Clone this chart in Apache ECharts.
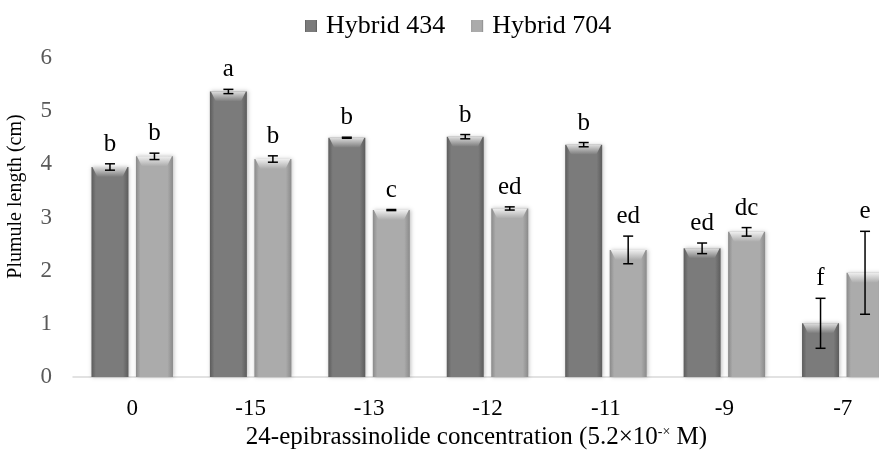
<!DOCTYPE html>
<html>
<head>
<meta charset="utf-8">
<script src="https://cdn.jsdelivr.net/npm/echarts@6/dist/echarts.min.js"></script>
<style>html,body{margin:0;padding:0;background:#fff}#c{width:879px;height:452px}</style>
</head>
<body>
<div id="c"></div>
<script>
const categories = ['0', '-15', '-13', '-12', '-11', '-9', '-7'];
const seriesNames = ['Hybrid 434', 'Hybrid 704'];
const h434 = [3.95, 5.37, 4.50, 4.52, 4.37, 2.42, 1.01];
const h704 = [4.15, 4.10, 3.14, 3.17, 2.39, 2.73, 1.96];
const err434 = [0.06, 0.04, 0.01, 0.04, 0.04, 0.10, 0.47];
const err704 = [0.06, 0.06, 0.01, 0.03, 0.26, 0.08, 0.78];
const letters434 = ['b', 'a', 'b', 'b', 'b', 'ed', 'f'];
const letters704 = ['b', 'b', 'c', 'ed', 'ed', 'dc', 'e'];
const yTicks = [0, 1, 2, 3, 4, 5, 6];

const FONT = 'Liberation Serif';
const BAR_W = 37;
const BAR_GAP = 7.5;

const chart = echarts.init(document.getElementById('c'));

function barGrad(edge, mid) {
  return new echarts.graphic.LinearGradient(0, 0, 1, 0, [
    {offset: 0, color: edge},
    {offset: 0.12, color: mid},
    {offset: 0.85, color: mid},
    {offset: 1, color: edge}
  ]);
}
const colors = [
  {edge: '#5c5c5c', mid: '#7b7b7b', cap: '#dedede'},
  {edge: '#8a8a8a', mid: '#ababab', cap: '#efefef'}
];

function overlay(seriesIdx, values, errs, letters) {
  return {
    type: 'custom',
    name: seriesNames[seriesIdx] + ' err',
    z: 5,
    silent: true,
    data: categories.map((c, i) => [i, values[i], errs[i], letters[i]]),
    renderItem: function (params, api) {
      const i = api.value(0);
      const v = api.value(1);
      const e = api.value(2);
      const letter = letters[i];
      const center = api.coord([i, v]);
      const shift = (seriesIdx === 0 ? -1 : 1) * (BAR_W + BAR_GAP) / 2;
      const cx = center[0] + shift;
      const top = center[1];
      const x0 = cx - BAR_W / 2, x1 = cx + BAR_W / 2;
      const yHi = api.coord([i, v + e])[1];
      const yLo = api.coord([i, v - e])[1];
      const col = colors[seriesIdx];
      const capH = 10;
      return {
        type: 'group',
        children: [
          {
            type: 'polygon',
            shape: {points: [[x0 + 1, top], [x1 - 1, top], [x1 - 6, top + capH], [x0 + 6, top + capH]]},
            style: {
              fill: new echarts.graphic.LinearGradient(0, 0, 0, 1, [
                {offset: 0, color: col.cap},
                {offset: 1, color: col.mid}
              ])
            }
          },
          {type: 'line', shape: {x1: cx, y1: yHi, x2: cx, y2: yLo}, style: {stroke: '#000', lineWidth: 1.5}},
          {type: 'line', shape: {x1: cx - 5, y1: yHi, x2: cx + 5, y2: yHi}, style: {stroke: '#000', lineWidth: 1.5}},
          {type: 'line', shape: {x1: cx - 5, y1: yLo, x2: cx + 5, y2: yLo}, style: {stroke: '#000', lineWidth: 1.5}},
          {
            type: 'text',
            x: cx, y: yHi - 7,
            style: {text: letter, fontFamily: FONT, fontSize: 25, fill: '#000', align: 'center', verticalAlign: 'bottom'}
          }
        ]
      };
    }
  };
}

const option = {
  animation: false,
  backgroundColor: '#fff',
  legend: {
    data: seriesNames,
    top: 8,
    left: 300,
    itemWidth: 12,
    itemHeight: 12,
    itemGap: 26,
    icon: 'rect',
    textStyle: {fontFamily: FONT, fontSize: 26, color: '#000', padding: [0, 0, 0, 4]}
  },
  grid: {left: 73, width: 829, top: 58, bottom: 75, outerBoundsMode: 'none', containLabel: false},
  xAxis: {
    type: 'category',
    data: categories,
    axisLine: {lineStyle: {color: '#d9d9d9', width: 1.5}},
    axisTick: {show: false},
    axisLabel: {margin: 20, fontFamily: FONT, fontSize: 23, color: '#000'},
    name: '24-epibrassinolide concentration (5.2×10{sup|-×} M)',
    nameLocation: 'middle',
    nameGap: 48,
    nameTextStyle: {
      fontFamily: FONT, fontSize: 25, color: '#000', padding: [0, 22, 0, 0],
      rich: {sup: {fontFamily: FONT, fontSize: 14, verticalAlign: 'top', padding: [0, 0, 10, 0]}}
    }
  },
  yAxis: {
    type: 'value',
    min: yTicks[0],
    max: yTicks[yTicks.length - 1],
    interval: 1,
    splitLine: {show: false},
    axisLine: {show: false},
    axisTick: {show: false},
    axisLabel: {margin: 21, fontFamily: FONT, fontSize: 23, color: '#595959'},
    name: 'Plumule length (cm)',
    nameLocation: 'middle',
    nameGap: 47,
    nameTextStyle: {fontFamily: FONT, fontSize: 20, color: '#000', padding: [0, 0, 0, 42]}
  },
  series: [
    {
      type: 'bar',
      name: seriesNames[0],
      data: h434,
      barWidth: BAR_W,
      barGap: (BAR_GAP / BAR_W * 100) + '%',
      itemStyle: {color: barGrad(colors[0].edge, colors[0].mid), shadowBlur: 4, shadowColor: 'rgba(0,0,0,0.25)', shadowOffsetX: 1},
      z: 2
    },
    {
      type: 'bar',
      name: seriesNames[1],
      data: h704,
      barWidth: BAR_W,
      itemStyle: {color: barGrad(colors[1].edge, colors[1].mid), shadowBlur: 4, shadowColor: 'rgba(0,0,0,0.25)', shadowOffsetX: 1},
      z: 2
    },
    overlay(0, h434, err434, letters434),
    overlay(1, h704, err704, letters704)
  ]
};
chart.setOption(option);
</script>
</body>
</html>
